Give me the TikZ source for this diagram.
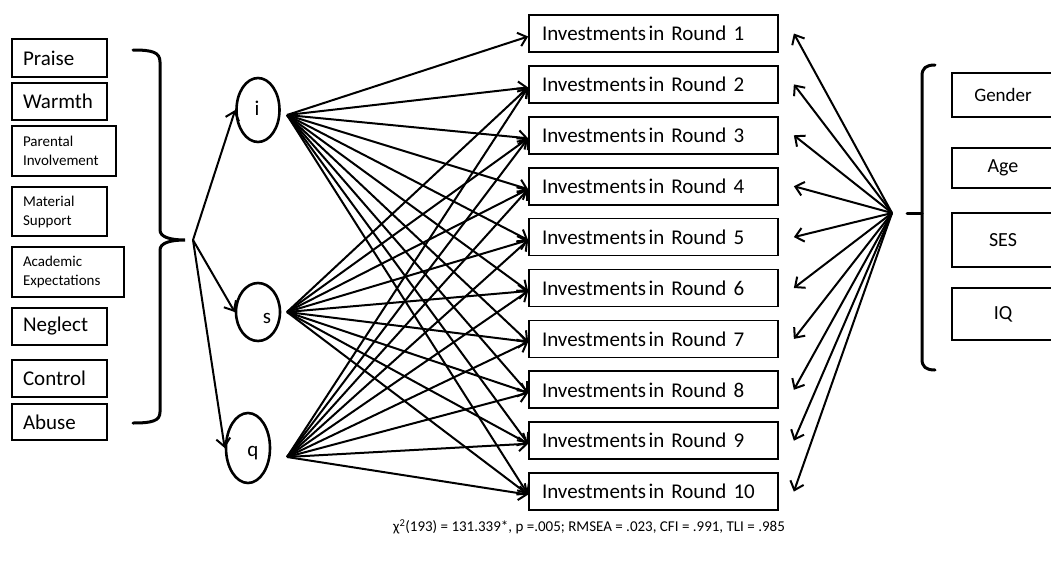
\documentclass[tikz,border=0pt]{standalone}
\usepackage{fontspec}
\setmainfont{Carlito}
\usetikzlibrary{arrows.meta,shapes.geometric}
\begin{document}
\begin{tikzpicture}[x=1pt,y=-1pt,
  lbox/.style={draw,line width=2pt,inner ysep=0pt,inner xsep=11pt,align=left,font=\fontsize{21}{24}\selectfont},
  sbox/.style={draw,line width=2pt,inner ysep=0pt,inner xsep=11pt,align=left,font=\fontsize{15}{19}\selectfont},
  rbox/.style={draw,line width=1.7pt,inner ysep=0pt,inner xsep=13pt,text width=223pt,minimum height=37pt,align=left,font=\fontsize{21}{25}\selectfont},
  cbox/.style={draw,line width=2pt,inner sep=0pt,minimum width=102pt,align=center,font=\fontsize{20}{23}\selectfont},
  ell/.style={draw,ellipse,line width=2.6pt,inner sep=0pt},
  lat/.style={font=\fontsize{21}{24}\selectfont,inner sep=0pt},
  arr/.style={line width=2pt,-{Straight Barb[length=8pt,width=14pt]}},
  brace/.style={line width=3pt,line cap=round}]
\useasboundingbox (0,0) rectangle (1051,562);

% left boxes
\node[lbox,text width=73pt,minimum height=38pt] (praise) at (59.5,58) {Praise};
\node[lbox,text width=73pt,minimum height=37pt] (warmth) at (59.5,101.5) {Warmth};
\node[sbox,text width=82pt,minimum height=50pt] (parent) at (64,151) {Parental\\Involvement};
\node[sbox,text width=73pt,minimum height=49pt] (material) at (59.5,211.5) {Material\\Support};
\node[sbox,text width=90pt,minimum height=50pt] (academic) at (68,272) {Academic\\Expectations};
\node[lbox,text width=73pt,minimum height=37pt] (neglect) at (59.5,326.5) {Neglect};
\node[lbox,text width=73pt,minimum height=37pt] (control) at (59.5,378.5) {Control};
\node[lbox,text width=73pt,minimum height=36pt] (abuse) at (59.5,422) {Abuse};

% left brace
\draw[brace] (133,50) .. controls (152,50) and (160,52) .. (160,62) -- (160,230)
  .. controls (160,237) and (170,240) .. (185,240)
  .. controls (170,240) and (160,243) .. (160,250) -- (160,412)
  .. controls (160,421) and (152,423) .. (133,423);

% latent factors
\node[ell,minimum width=43pt,minimum height=64pt] (i) at (258,110) {};
\node[ell,minimum width=44pt,minimum height=58pt] (s) at (258,312) {};
\node[ell,minimum width=44pt,minimum height=70pt] (q) at (248,448) {};
\node[lat] (ilab) at (257,108) {i};
\node[lat] (slab) at (267,318) {s};
\node[lat] (qlab) at (253,453) {q};

\coordinate (br) at (193,240);
\draw[arr] (br) -- (i.west);
\draw[arr] (br) -- (s.west);
\draw[arr] (br) -- (q.west);

% rounds
\foreach \k in {1,...,10}{
  \node[rbox] (R\k) at (653.5,{33.5+50.9*(\k-1)}) {Investments\hspace{0.12em}in Round \k};
}

\coordinate (si) at (287,115);
\coordinate (ss) at (287,312);
\coordinate (sq) at (287,457);
\foreach \k in {1,...,10}{ \draw[arr] (si) -- ([yshift=-3pt]R\k.west); }
\foreach \k in {2,...,10}{ \draw[arr] (ss) -- ([yshift=-3pt]R\k.west); }
\foreach \k in {2,...,10}{ \draw[arr] (sq) -- ([yshift=-3pt]R\k.west); }

% covariates
\coordinate (cov) at (892,213);
\foreach \k in {1,...,10}{ \draw[arr] (cov) -- ([xshift=15pt]R\k.east); }

\draw[brace] (935,65) .. controls (926,65) and (922,68) .. (922,76) -- (922,359)
  .. controls (922,367) and (926,370) .. (935,370);
\draw[brace] (907,213) -- (922,213);

\node[cbox,minimum height=44pt,font=\fontsize{19}{22}\selectfont] (gender) at (1003,95) {Gender};
\node[cbox,minimum height=40pt] (age) at (1003,168) {Age};
\node[cbox,minimum height=54pt] (ses) at (1003,240) {SES};
\node[cbox,minimum height=52pt] (iq) at (1003,314) {IQ};

\node[font=\fontsize{15}{18}\selectfont,inner sep=0pt] (fit) at (589,527)
  {χ\textsuperscript{2}(193) = 131.339*, p =.005; RMSEA = .023, CFI = .991, TLI = .985};
\end{tikzpicture}
\end{document}
